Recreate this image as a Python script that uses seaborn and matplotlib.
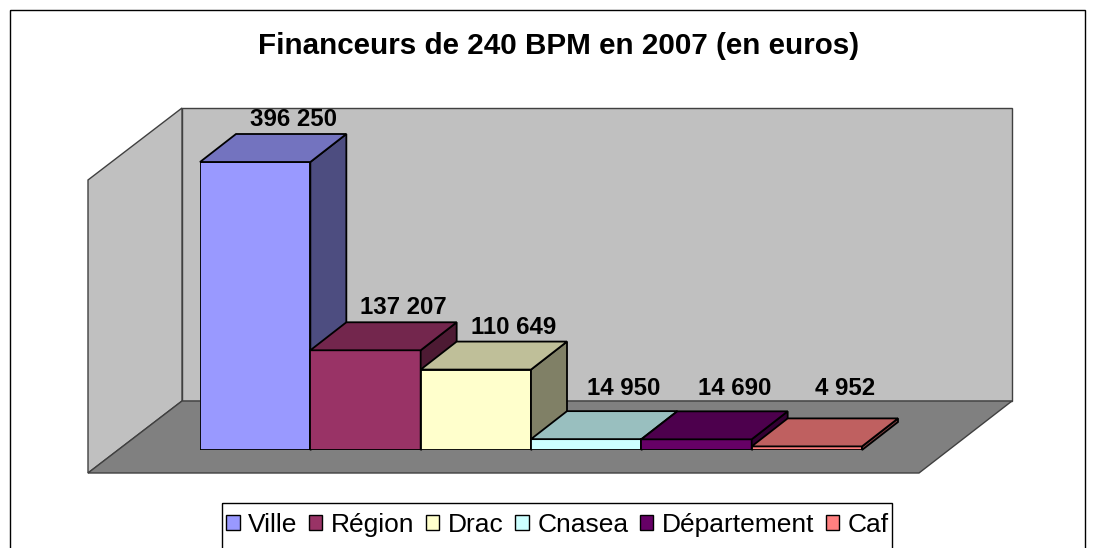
import matplotlib
matplotlib.use("Agg")
import matplotlib.pyplot as plt
import seaborn as sns
import numpy as np
import pandas as pd
from matplotlib.patches import Polygon, Rectangle, Patch

# ---- data ----
categories = ["Ville", "Région", "Drac", "Cnasea", "Département", "Caf"]
values = [396250, 137207, 110649, 14950, 14690, 4952]
value_labels = ["396 250", "137 207", "110 649", "14 950", "14 690", "4 952"]
title = "Financeurs de 240 BPM en 2007 (en euros)"

# ---- style ----
front_colors = ["#9999FF", "#993366", "#FFFFCC", "#CCFFFF", "#660066", "#FF8080"]


def shade(hex_color, f):
    rgb = np.array(matplotlib.colors.to_rgb(hex_color)) * f
    return tuple(rgb)


W, H = 1096, 548
sns.set_theme(style="white")
plt.rcParams["font.family"] = ["Liberation Sans", "DejaVu Sans"]
plt.rcParams["text.color"] = "black"

fig = plt.figure(figsize=(W / 100, H / 100), dpi=100)
fig.patch.set_facecolor("white")

# background axes in pixel coordinates (origin top-left) for decoration
bg = fig.add_axes([0, 0, 1, 1])
bg.set_xlim(0, W)
bg.set_ylim(H, 0)
bg.axis("off")

wall_edge = "#404040"
FLOOR_BACK = 401
left_wall = [(88, 180), (182, 108), (182, FLOOR_BACK), (88, 473)]
back_wall = [(182, 108), (1012, 108), (1012, FLOOR_BACK), (182, FLOOR_BACK)]
floor = [(88, 473), (182, FLOOR_BACK), (1012, FLOOR_BACK), (919, 473)]
bg.add_patch(Polygon(back_wall, closed=True, facecolor="#C0C0C0", edgecolor=wall_edge, lw=1.0))
bg.add_patch(Polygon(left_wall, closed=True, facecolor="#C0C0C0", edgecolor=wall_edge, lw=1.0))
bg.add_patch(Polygon(floor, closed=True, facecolor="#808080", edgecolor=wall_edge, lw=1.0))

# outer chart border (bottom cut off by figure edge)
bg.add_patch(Rectangle((10, 10), 1075, 600, facecolor="none", edgecolor="black", lw=1.0))
# legend border (bottom cut off by figure edge)
bg.add_patch(Rectangle((222, 503), 670, 80, facecolor="none", edgecolor="black", lw=1.0))

# ---- main axes for bars ----
ax_left, ax_right = 200, 862
ax_bottom, ax_top = 450, 162
ax = fig.add_axes([ax_left / W, 1 - ax_bottom / H, (ax_right - ax_left) / W, (ax_bottom - ax_top) / H])
ax.patch.set_visible(False)

df = pd.DataFrame({"cat": categories, "val": values})
sns.barplot(data=df, x="cat", y="val", hue="cat", palette=front_colors, width=1.0,
            edgecolor="black", linewidth=1.3, legend=False, ax=ax, saturation=1)
ax.set_xlim(-0.5, len(categories) - 0.5)
ax.set_ylim(0, max(values))
ax.axis("off")

fig.canvas.draw()

DX, DY = 36, 28  # depth offset in pixels
bars = sorted(ax.patches, key=lambda p: p.get_x())
to_disp = ax.transData.transform
to_data = ax.transData.inverted().transform
floor_back_disp = H - FLOOR_BACK  # display y (pixels, origin bottom)

for i, (bar, col, lab) in enumerate(zip(bars, front_colors, value_labels)):
    x0 = bar.get_x()
    x1 = x0 + bar.get_width()
    h = bar.get_height()
    bar.set_zorder(10 + 3 * i)
    p00, p10, p11, p01 = to_disp([(x0, 0), (x1, 0), (x1, h), (x0, h)])
    d = np.array([DX, DY])
    side = to_data([p10, p11, p11 + d, p10 + d])
    top = to_data([p01, p11, p11 + d, p01 + d])
    ax.add_patch(Polygon(side, closed=True, facecolor=shade(col, 0.5), edgecolor="black",
                         lw=1.3, clip_on=False, zorder=10 + 3 * i + 1))
    ax.add_patch(Polygon(top, closed=True, facecolor=shade(col, 0.75), edgecolor="black",
                         lw=1.3, clip_on=False, zorder=10 + 3 * i + 2))
    # label above the back edge of the top face, kept above the floor's back edge
    cx = (p01[0] + p11[0]) / 2 + DX + 2
    by = max(p11[1] + DY + 8, floor_back_disp + 6)
    tx, ty = to_data([(cx, by)])[0]
    ax.text(tx, ty, lab, ha="center", va="baseline", fontsize=17.3, fontweight="bold",
            color="black", clip_on=False, zorder=40)

# title
fig.text(559 / W, 1 - 54 / H, title, ha="center", va="baseline", fontsize=21.3,
         fontweight="bold", color="black")

# legend
handles = [Patch(facecolor=c, edgecolor="black", linewidth=1.0) for c in front_colors]
leg = fig.legend(handles, categories, loc="center", bbox_to_anchor=(557.5 / W, 1 - 525 / H), ncol=6,
                 frameon=False, fontsize=19, handlelength=0.52, handleheight=0.52,
                 handletextpad=0.33, columnspacing=0.42, borderpad=0.0)
for t in leg.get_texts():
    t.set_color("black")

fig.savefig("out.png", dpi=100)
